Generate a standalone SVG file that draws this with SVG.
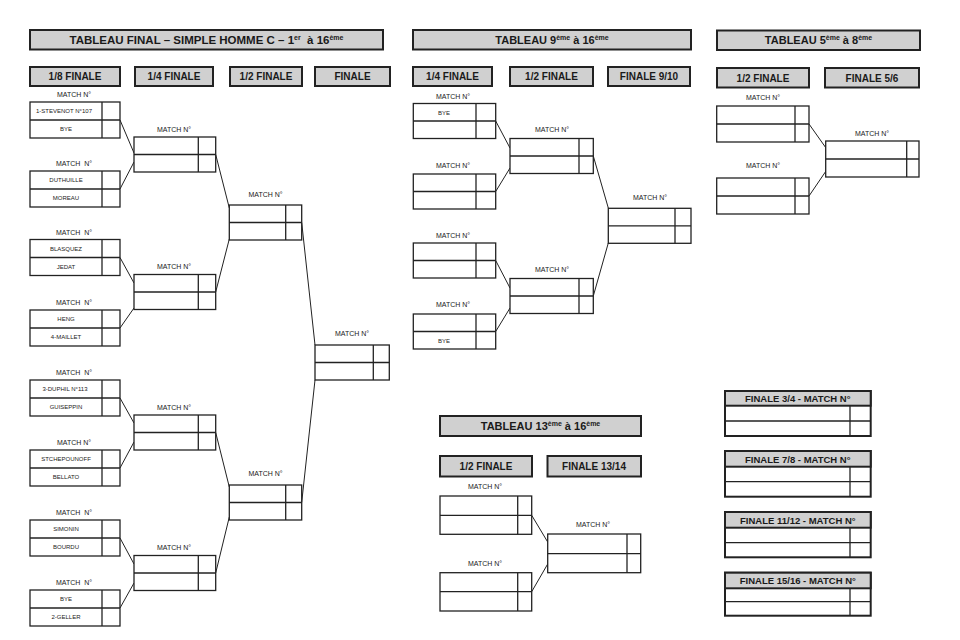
<svg xmlns="http://www.w3.org/2000/svg" width="960" height="640" viewBox="0 0 960 640">
<style>
.bg{fill:#ffffff}
.hdr{fill:#d0d0d0;stroke:#222;stroke-width:2}
.box{fill:#ffffff;stroke:#222;stroke-width:1.3}
.sep{stroke:#222;stroke-width:1.3}
.ln{stroke:#222;stroke-width:1;fill:none}
text{font-family:"Liberation Sans",Arial,sans-serif;fill:#1a1a1a;text-anchor:middle}
.tt{font-size:11.5px;font-weight:bold}
.ts{font-size:11px;font-weight:bold}
.th{font-size:10px;font-weight:bold}
.tf{font-size:9.5px;font-weight:bold}
.tl{font-size:7px}
.tn{font-size:6px}
.sup{font-size:7px}
</style>
<rect class="bg" x="0" y="0" width="960" height="640"/>

<!-- Titles and column headers -->
<g id="titles">
  <rect class="hdr" x="30" y="30" width="353" height="19.5"/>
  <text class="tt" x="206.5" y="43.8">TABLEAU FINAL – SIMPLE HOMME C – 1<tspan class="sup" dy="-4">er</tspan><tspan dy="4">&#160;&#160;à 16</tspan><tspan class="sup" dy="-4">ème</tspan></text>
  <rect class="hdr" x="30" y="67" width="90" height="19"/>
  <text class="th" x="75" y="80">1/8 FINALE</text>
  <rect class="hdr" x="135" y="67" width="78" height="19"/>
  <text class="th" x="174" y="80">1/4 FINALE</text>
  <rect class="hdr" x="230" y="67" width="72" height="19"/>
  <text class="th" x="266" y="80">1/2 FINALE</text>
  <rect class="hdr" x="315" y="67" width="75" height="19"/>
  <text class="th" x="352.5" y="80">FINALE</text>

  <rect class="hdr" x="413" y="30" width="278" height="19.5"/>
  <text class="ts" x="552" y="43.8">TABLEAU 9<tspan class="sup" dy="-4">ème</tspan><tspan dy="4"> à 16</tspan><tspan class="sup" dy="-4">ème</tspan></text>
  <rect class="hdr" x="413" y="67" width="79" height="19"/>
  <text class="th" x="452.5" y="80">1/4 FINALE</text>
  <rect class="hdr" x="510" y="67" width="83" height="19"/>
  <text class="th" x="551.5" y="80">1/2 FINALE</text>
  <rect class="hdr" x="608" y="67" width="82" height="19"/>
  <text class="th" x="649" y="80">FINALE 9/10</text>

  <rect class="hdr" x="717" y="30.5" width="203" height="19.5"/>
  <text class="ts" x="818.5" y="44.2">TABLEAU 5<tspan class="sup" dy="-4">ème</tspan><tspan dy="4"> à 8</tspan><tspan class="sup" dy="-4">ème</tspan></text>
  <rect class="hdr" x="717" y="68" width="92" height="19.5"/>
  <text class="th" x="763" y="81.5">1/2 FINALE</text>
  <rect class="hdr" x="825" y="68" width="94" height="19.5"/>
  <text class="th" x="872" y="81.5">FINALE 5/6</text>

  <rect class="hdr" x="440" y="416" width="201" height="20"/>
  <text class="ts" x="540.5" y="430">TABLEAU 13<tspan class="sup" dy="-4">ème</tspan><tspan dy="4"> à 16</tspan><tspan class="sup" dy="-4">ème</tspan></text>
  <rect class="hdr" x="440" y="456" width="92" height="20.5"/>
  <text class="th" x="486" y="470">1/2 FINALE</text>
  <rect class="hdr" x="547.5" y="456" width="93.5" height="20.5"/>
  <text class="th" x="594" y="470">FINALE 13/14</text>
</g>

<!-- Connectors -->
<g id="connectors">
  <line class="ln" x1="120" y1="120" x2="134" y2="153"/>
  <line class="ln" x1="120" y1="189" x2="134" y2="162"/>
  <line class="ln" x1="120" y1="257.5" x2="134" y2="283"/>
  <line class="ln" x1="120" y1="328" x2="134" y2="308"/>
  <line class="ln" x1="120" y1="398" x2="134" y2="423"/>
  <line class="ln" x1="120" y1="468" x2="134" y2="442"/>
  <line class="ln" x1="120" y1="538" x2="134" y2="564"/>
  <line class="ln" x1="120" y1="608" x2="134" y2="583"/>
  <line class="ln" x1="215.7" y1="154.5" x2="229.3" y2="208"/>
  <line class="ln" x1="215.7" y1="292" x2="229.3" y2="239"/>
  <line class="ln" x1="215.7" y1="432.5" x2="229.3" y2="487"/>
  <line class="ln" x1="215.7" y1="573" x2="229.3" y2="517"/>
  <line class="ln" x1="301.7" y1="222.5" x2="315" y2="345"/>
  <line class="ln" x1="301.7" y1="502.5" x2="315" y2="380"/>

  <line class="ln" x1="495.7" y1="121" x2="510" y2="148"/>
  <line class="ln" x1="495.7" y1="191.5" x2="510" y2="168"/>
  <line class="ln" x1="495.7" y1="260.5" x2="510" y2="288"/>
  <line class="ln" x1="495.7" y1="331.5" x2="510" y2="308"/>
  <line class="ln" x1="593.3" y1="156" x2="608.3" y2="208"/>
  <line class="ln" x1="593.3" y1="296" x2="608.3" y2="243"/>

  <line class="ln" x1="809" y1="124" x2="826" y2="148"/>
  <line class="ln" x1="809" y1="196" x2="826" y2="171"/>

  <line class="ln" x1="531.7" y1="515.3" x2="547.7" y2="542"/>
  <line class="ln" x1="531.7" y1="591.7" x2="547.7" y2="564"/>
</g>

<!-- Main bracket, 1/8 finale -->
<g id="m8-1">
  <text class="tl" x="74" y="97">MATCH N°</text>
  <rect class="box" x="30" y="102" width="90" height="36"/>
  <line class="sep" x1="30" y1="120" x2="120" y2="120"/><line class="sep" x1="102" y1="102" x2="102" y2="138"/>
  <text class="tn" x="64" y="113">1-STEVENOT N°107</text><text class="tn" x="66" y="131">BYE</text>
</g>
<g id="m8-2">
  <text class="tl" x="74" y="166">MATCH&#160; N°</text>
  <rect class="box" x="30" y="171" width="90" height="36"/>
  <line class="sep" x1="30" y1="189" x2="120" y2="189"/><line class="sep" x1="102" y1="171" x2="102" y2="207"/>
  <text class="tn" x="66" y="182">DUTHUILLE</text><text class="tn" x="66" y="200">MOREAU</text>
</g>
<g id="m8-3">
  <text class="tl" x="74" y="234.5">MATCH&#160; N°</text>
  <rect class="box" x="30" y="239.5" width="90" height="36"/>
  <line class="sep" x1="30" y1="257.5" x2="120" y2="257.5"/><line class="sep" x1="102" y1="239.5" x2="102" y2="275.5"/>
  <text class="tn" x="66" y="250.5">BLASQUEZ</text><text class="tn" x="66" y="268.5">JEDAT</text>
</g>
<g id="m8-4">
  <text class="tl" x="74" y="305">MATCH&#160; N°</text>
  <rect class="box" x="30" y="310" width="90" height="36"/>
  <line class="sep" x1="30" y1="328" x2="120" y2="328"/><line class="sep" x1="102" y1="310" x2="102" y2="346"/>
  <text class="tn" x="66" y="321">HENG</text><text class="tn" x="66" y="339">4-MAILLET</text>
</g>
<g id="m8-5">
  <text class="tl" x="74" y="375">MATCH&#160; N°</text>
  <rect class="box" x="30" y="380" width="90" height="36"/>
  <line class="sep" x1="30" y1="398" x2="120" y2="398"/><line class="sep" x1="102" y1="380" x2="102" y2="416"/>
  <text class="tn" x="65" y="391">3-DUPHIL N°113</text><text class="tn" x="66" y="409">GUISEPPIN</text>
</g>
<g id="m8-6">
  <text class="tl" x="74" y="445">MATCH N°</text>
  <rect class="box" x="30" y="450" width="90" height="36"/>
  <line class="sep" x1="30" y1="468" x2="120" y2="468"/><line class="sep" x1="102" y1="450" x2="102" y2="486"/>
  <text class="tn" x="66" y="461">STCHEPOUNOFF</text><text class="tn" x="66" y="479">BELLATO</text>
</g>
<g id="m8-7">
  <text class="tl" x="74" y="515">MATCH&#160; N°</text>
  <rect class="box" x="30" y="520" width="90" height="36"/>
  <line class="sep" x1="30" y1="538" x2="120" y2="538"/><line class="sep" x1="102" y1="520" x2="102" y2="556"/>
  <text class="tn" x="66" y="531">SIMONIN</text><text class="tn" x="66" y="549">BOURDU</text>
</g>
<g id="m8-8">
  <text class="tl" x="74" y="585">MATCH&#160; N°</text>
  <rect class="box" x="30" y="590" width="90" height="36"/>
  <line class="sep" x1="30" y1="608" x2="120" y2="608"/><line class="sep" x1="102" y1="590" x2="102" y2="626"/>
  <text class="tn" x="66" y="601">BYE</text><text class="tn" x="66" y="619">2-GELLER</text>
</g>

<!-- Main bracket, 1/4 finale -->
<g id="m4-1">
  <text class="tl" x="174" y="131.5">MATCH N°</text>
  <rect class="box" x="134" y="137" width="81.7" height="35"/>
  <line class="sep" x1="134" y1="154.5" x2="215.7" y2="154.5"/><line class="sep" x1="198.3" y1="137" x2="198.3" y2="172"/>
</g>
<g id="m4-2">
  <text class="tl" x="174" y="269">MATCH N°</text>
  <rect class="box" x="134" y="274.5" width="81.7" height="35"/>
  <line class="sep" x1="134" y1="292" x2="215.7" y2="292"/><line class="sep" x1="198.3" y1="274.5" x2="198.3" y2="309.5"/>
</g>
<g id="m4-3">
  <text class="tl" x="174" y="409.5">MATCH N°</text>
  <rect class="box" x="134" y="415" width="81.7" height="35"/>
  <line class="sep" x1="134" y1="432.5" x2="215.7" y2="432.5"/><line class="sep" x1="198.3" y1="415" x2="198.3" y2="450"/>
</g>
<g id="m4-4">
  <text class="tl" x="174" y="550">MATCH N°</text>
  <rect class="box" x="134" y="555.5" width="81.7" height="35"/>
  <line class="sep" x1="134" y1="573" x2="215.7" y2="573"/><line class="sep" x1="198.3" y1="555.5" x2="198.3" y2="590.5"/>
</g>

<!-- Main bracket, 1/2 finale -->
<g id="m2-1">
  <text class="tl" x="265.5" y="197">MATCH N°</text>
  <rect class="box" x="229.3" y="205" width="72.4" height="35"/>
  <line class="sep" x1="229.3" y1="222.5" x2="301.7" y2="222.5"/><line class="sep" x1="285.7" y1="205" x2="285.7" y2="240"/>
</g>
<g id="m2-2">
  <text class="tl" x="265.5" y="476">MATCH N°</text>
  <rect class="box" x="229.3" y="485" width="72.4" height="35"/>
  <line class="sep" x1="229.3" y1="502.5" x2="301.7" y2="502.5"/><line class="sep" x1="285.7" y1="485" x2="285.7" y2="520"/>
</g>

<!-- Main bracket, finale -->
<g id="m1">
  <text class="tl" x="352" y="336">MATCH N°</text>
  <rect class="box" x="315" y="345" width="74.3" height="35"/>
  <line class="sep" x1="315" y1="362.5" x2="389.3" y2="362.5"/><line class="sep" x1="373.3" y1="345" x2="373.3" y2="380"/>
</g>

<!-- Tableau 9 a 16 -->
<g id="t9-q1">
  <text class="tl" x="453" y="98.5">MATCH N°</text>
  <rect class="box" x="413.3" y="103.5" width="82.4" height="35"/>
  <line class="sep" x1="413.3" y1="121" x2="495.7" y2="121"/><line class="sep" x1="476" y1="103.5" x2="476" y2="138.5"/>
  <text class="tn" x="444" y="114.5">BYE</text>
</g>
<g id="t9-q2">
  <text class="tl" x="453" y="168">MATCH N°</text>
  <rect class="box" x="413.3" y="174" width="82.4" height="35"/>
  <line class="sep" x1="413.3" y1="191.5" x2="495.7" y2="191.5"/><line class="sep" x1="476" y1="174" x2="476" y2="209"/>
</g>
<g id="t9-q3">
  <text class="tl" x="453" y="237.5">MATCH N°</text>
  <rect class="box" x="413.3" y="243" width="82.4" height="35"/>
  <line class="sep" x1="413.3" y1="260.5" x2="495.7" y2="260.5"/><line class="sep" x1="476" y1="243" x2="476" y2="278"/>
</g>
<g id="t9-q4">
  <text class="tl" x="453" y="307">MATCH N°</text>
  <rect class="box" x="413.3" y="314" width="82.4" height="35"/>
  <line class="sep" x1="413.3" y1="331.5" x2="495.7" y2="331.5"/><line class="sep" x1="476" y1="314" x2="476" y2="349"/>
  <text class="tn" x="444" y="342.5">BYE</text>
</g>
<g id="t9-s1">
  <text class="tl" x="552" y="132">MATCH N°</text>
  <rect class="box" x="510" y="138.5" width="83.3" height="35"/>
  <line class="sep" x1="510" y1="156" x2="593.3" y2="156"/><line class="sep" x1="579" y1="138.5" x2="579" y2="173.5"/>
</g>
<g id="t9-s2">
  <text class="tl" x="552" y="271.5">MATCH N°</text>
  <rect class="box" x="510" y="278.5" width="83.3" height="35"/>
  <line class="sep" x1="510" y1="296" x2="593.3" y2="296"/><line class="sep" x1="579" y1="278.5" x2="579" y2="313.5"/>
</g>
<g id="t9-f">
  <text class="tl" x="650" y="199.5">MATCH N°</text>
  <rect class="box" x="608.3" y="208.3" width="82.7" height="35"/>
  <line class="sep" x1="608.3" y1="225.8" x2="691" y2="225.8"/><line class="sep" x1="675" y1="208.3" x2="675" y2="243.3"/>
</g>

<!-- Tableau 5 a 8 -->
<g id="t5-s1">
  <text class="tl" x="763" y="100">MATCH N°</text>
  <rect class="box" x="716.7" y="106" width="92.3" height="36"/>
  <line class="sep" x1="716.7" y1="124" x2="809" y2="124"/><line class="sep" x1="795" y1="106" x2="795" y2="142"/>
</g>
<g id="t5-s2">
  <text class="tl" x="763" y="168">MATCH N°</text>
  <rect class="box" x="716.7" y="178" width="92.3" height="36"/>
  <line class="sep" x1="716.7" y1="196" x2="809" y2="196"/><line class="sep" x1="795" y1="178" x2="795" y2="214"/>
</g>
<g id="t5-f">
  <text class="tl" x="872" y="136">MATCH N°</text>
  <rect class="box" x="825.7" y="141" width="93.3" height="36"/>
  <line class="sep" x1="825.7" y1="159" x2="919" y2="159"/><line class="sep" x1="906.7" y1="141" x2="906.7" y2="177"/>
</g>

<!-- Tableau 13 a 16 -->
<g id="t13-s1">
  <text class="tl" x="485" y="488.5">MATCH N°</text>
  <rect class="box" x="440" y="496" width="91.7" height="38.3"/>
  <line class="sep" x1="440" y1="515.3" x2="531.7" y2="515.3"/><line class="sep" x1="517.7" y1="496" x2="517.7" y2="534.3"/>
</g>
<g id="t13-s2">
  <text class="tl" x="485" y="566">MATCH N°</text>
  <rect class="box" x="440" y="572.7" width="91.7" height="38.3"/>
  <line class="sep" x1="440" y1="591.7" x2="531.7" y2="591.7"/><line class="sep" x1="517.7" y1="572.7" x2="517.7" y2="611"/>
</g>
<g id="t13-f">
  <text class="tl" x="593" y="527">MATCH N°</text>
  <rect class="box" x="547.7" y="534" width="93" height="38.7"/>
  <line class="sep" x1="547.7" y1="553.7" x2="640.7" y2="553.7"/><line class="sep" x1="627" y1="534" x2="627" y2="572.7"/>
</g>

<!-- Placement finals -->
<g id="f34">
  <rect class="box" x="725" y="391" width="145.7" height="45" style="stroke-width:2"/>
  <rect class="hdr" x="725" y="391" width="145.7" height="14.7"/>
  <text class="tf" x="797.8" y="402">FINALE 3/4 - MATCH N°</text>
  <line class="sep" x1="725" y1="421" x2="870.7" y2="421"/><line class="sep" x1="850" y1="405.7" x2="850" y2="436"/>
</g>
<g id="f78">
  <rect class="box" x="725" y="451" width="145.7" height="45.7" style="stroke-width:2"/>
  <rect class="hdr" x="725" y="451" width="145.7" height="15.7"/>
  <text class="tf" x="797.8" y="462.5">FINALE 7/8 - MATCH N°</text>
  <line class="sep" x1="725" y1="481.7" x2="870.7" y2="481.7"/><line class="sep" x1="850" y1="466.7" x2="850" y2="496.7"/>
</g>
<g id="f1112">
  <rect class="box" x="725" y="512" width="145.7" height="45.3" style="stroke-width:2"/>
  <rect class="hdr" x="725" y="512" width="145.7" height="15.7"/>
  <text class="tf" x="797.8" y="523.5">FINALE 11/12 - MATCH N°</text>
  <line class="sep" x1="725" y1="542.7" x2="870.7" y2="542.7"/><line class="sep" x1="850" y1="527.7" x2="850" y2="557.3"/>
</g>
<g id="f1516">
  <rect class="box" x="725" y="572.7" width="145.7" height="43" style="stroke-width:2"/>
  <rect class="hdr" x="725" y="572.7" width="145.7" height="15.6"/>
  <text class="tf" x="797.8" y="584">FINALE 15/16 - MATCH N°</text>
  <line class="sep" x1="725" y1="601.7" x2="870.7" y2="601.7"/><line class="sep" x1="850" y1="588.3" x2="850" y2="615.7"/>
</g>
</svg>
